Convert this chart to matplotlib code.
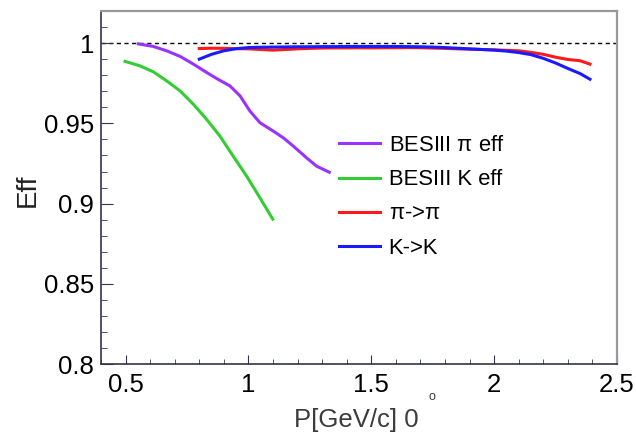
import numpy as np
import matplotlib
matplotlib.use('Agg')
import matplotlib.pyplot as plt
from matplotlib.ticker import MultipleLocator

plt.rcParams['font.family'] = ['Liberation Sans', 'DejaVu Sans']

# BESIII reference efficiencies
pi_p = [0.552, 0.613, 0.667, 0.722, 0.776, 0.830, 0.871, 0.925, 0.966, 1.006,
        1.047, 1.101, 1.142, 1.183, 1.237, 1.278, 1.329]
pi_eff = [0.9995, 0.9979, 0.9952, 0.9917, 0.9869, 0.9817, 0.9779, 0.9733, 0.9671, 0.9577,
          0.9504, 0.9452, 0.9410, 0.9358, 0.9285, 0.9233, 0.9196]

k_p = [0.498, 0.559, 0.613, 0.667, 0.722, 0.776, 0.830, 0.884, 0.938, 0.993, 1.047, 1.099]
k_eff = [0.9886, 0.9858, 0.9821, 0.9765, 0.9702, 0.9619, 0.9525, 0.9421, 0.9296, 0.9171,
         0.9036, 0.8904]

# our identification efficiencies
p_bins = [0.80, 0.85, 0.90, 0.95, 1.00, 1.05, 1.10, 1.15, 1.20, 1.25, 1.30, 1.35, 1.40,
          1.45, 1.50, 1.55, 1.60, 1.65, 1.70, 1.75, 1.80, 1.85, 1.90, 1.95, 2.00, 2.05,
          2.10, 2.15, 2.20, 2.25, 2.30, 2.35, 2.39]
pipi_eff = [0.9966, 0.9968, 0.9967, 0.9965, 0.9964, 0.9960, 0.9956, 0.9960, 0.9964, 0.9967,
            0.9969, 0.9970, 0.9970, 0.9971, 0.9970, 0.9971, 0.9971, 0.9972, 0.9971, 0.9969,
            0.9967, 0.9964, 0.9962, 0.9960, 0.9958, 0.9955, 0.9952, 0.9942, 0.9930, 0.9912,
            0.9898, 0.9890, 0.9869]
kk_eff = [0.9900, 0.9930, 0.9952, 0.9965, 0.9972, 0.9974, 0.9975, 0.9976, 0.9977, 0.9977,
          0.9978, 0.9978, 0.9979, 0.9979, 0.9979, 0.9979, 0.9979, 0.9978, 0.9977, 0.9975,
          0.9972, 0.9968, 0.9964, 0.9960, 0.9956, 0.9950, 0.9941, 0.9928, 0.9905, 0.9876,
          0.9842, 0.9810, 0.9775]

fig = plt.figure(figsize=(6.36, 4.33), dpi=100)
ax = fig.add_axes([0.1588, 0.1587, 0.8113, 0.816])

ax.axhline(1.0, color='black', lw=1.0, ls=(0, (3, 2.5)), zorder=1)

ax.plot(pi_p, pi_eff, color='#9933ff', lw=2.2, label=r'BESIII $\mathregular{\pi}$ eff')
ax.plot(k_p, k_eff, color='#33cc33', lw=2.2, label='BESIII K eff')
ax.plot(p_bins, pipi_eff, color='#ff1a1a', lw=2.2, label=r'$\mathregular{\pi}$->$\mathregular{\pi}$')
ax.plot(p_bins, kk_eff, color='#1a1aff', lw=2.2, label='K->K')

ax.set_xlim(0.4, 2.5)
ax.set_ylim(0.8, 1.02)

ax.xaxis.set_major_locator(MultipleLocator(0.5))
ax.xaxis.set_minor_locator(MultipleLocator(0.1))
ax.yaxis.set_major_locator(MultipleLocator(0.05))
ax.yaxis.set_minor_locator(MultipleLocator(0.01))
ax.set_xticks([0.5, 1.0, 1.5, 2.0, 2.5], ['0.5', '1', '1.5', '2', '2.5'])
ax.set_yticks([0.8, 0.85, 0.9, 0.95, 1.0], ['0.8', '0.85', '0.9', '0.95', '1'])

tick_col = '#34344a'
ax.tick_params(axis='both', which='both', direction='in', color=tick_col,
               labelsize=18.5, top=False, right=False)
ax.tick_params(axis='x', which='major', length=6.5, pad=6)
ax.tick_params(axis='x', which='minor', length=3.3)
ax.tick_params(axis='y', which='major', length=8.6, pad=5)
ax.tick_params(axis='y', which='minor', length=4.3)

for side in ['left', 'bottom']:
    ax.spines[side].set_color(tick_col)
    ax.spines[side].set_linewidth(1.2)
for side in ['top', 'right']:
    ax.spines[side].set_color('#999999')
    ax.spines[side].set_linewidth(1.6)

leg = ax.legend(loc='upper left', bbox_to_anchor=(0.432, 0.692), frameon=False,
                fontsize=15.8, handlelength=1.85, handletextpad=0.4, labelspacing=0.6,
                borderpad=0.2)

fig.text(28 / 636, 1 - 190 / 433, 'Eff', rotation=90, ha='center', va='center',
         fontsize=20, color='#222222')
fig.text(356 / 636, 1 - 420 / 433, 'P[GeV/c] 0', ha='center', va='center',
         fontsize=18.5, color='#3c3c3c')
fig.text(432 / 636, 1 - 397 / 433, 'o', ha='center', va='center',
         fontsize=9, color='#3c3c3c')

fig.savefig('out.png', dpi=100)
